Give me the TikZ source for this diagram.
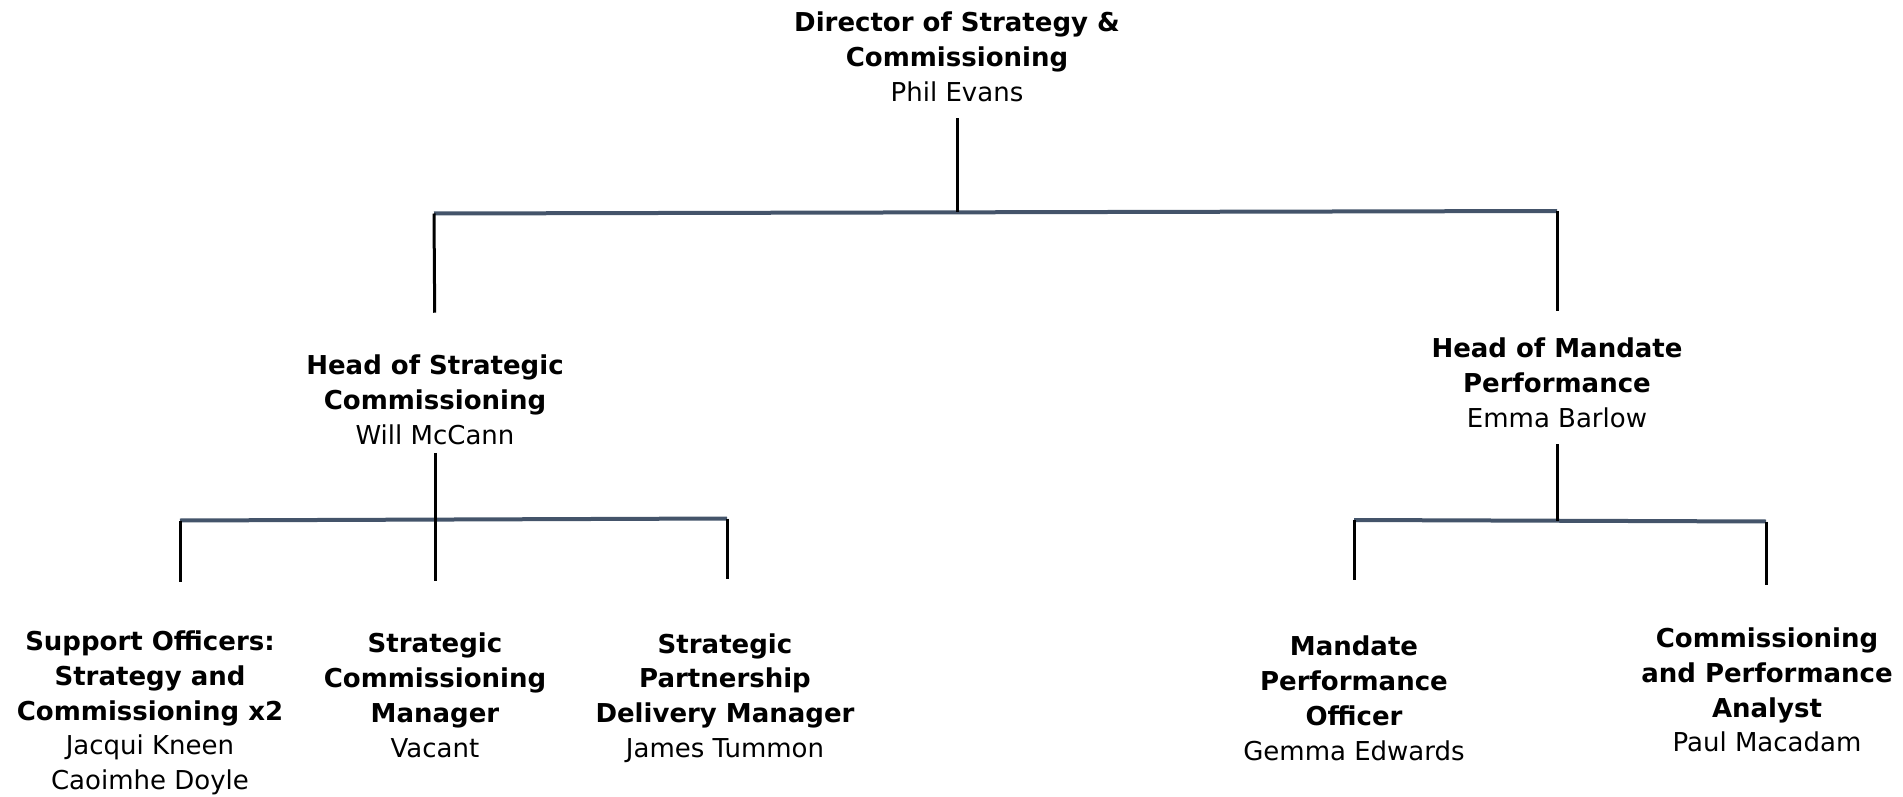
\documentclass[tikz,border=0pt]{standalone}
\usepackage{fontspec}
\setmainfont{DejaVu Sans}
\definecolor{barblue}{RGB}{68,84,106}
\tikzstyle{post} = [align=center, inner sep=0pt, font=\fontsize{13}{17.4}\selectfont]
\tikzstyle{stem} = [line width=1.5pt, black]
\tikzstyle{bar} = [line width=2pt, barblue]

\begin{document}
\begin{tikzpicture}[x=0.5pt, y=-0.5pt]
\useasboundingbox (0,0) rectangle (1903,797);

% Posts
\node[post] (dir) at (957,57) {\textbf{Director of Strategy \&}\\\textbf{Commissioning}\\Phil Evans};
\node[post] (hsc) at (435,400) {\textbf{Head of Strategic}\\\textbf{Commissioning}\\Will McCann};
\node[post] (hmp) at (1557,383) {\textbf{Head of Mandate}\\\textbf{Performance}\\Emma Barlow};
\node[post] (sup) at (150,713) {\textbf{Support Officers:}\\\textbf{Strategy and}\\\textbf{Commissioning x2}\\Jacqui Kneen\\Caoimhe Doyle};
\node[post] (scm) at (435,695.5) {\textbf{Strategic}\\\textbf{Commissioning}\\\textbf{Manager}\\Vacant};
\node[post] (spd) at (725,698) {\textbf{Strategic}\\\textbf{Partnership}\\\textbf{Delivery Manager}\\James Tummon};
\node[post] (mpo) at (1354,698.5) {\textbf{Mandate}\\\textbf{Performance}\\\textbf{Officer}\\Gemma Edwards};
\node[post] (cpa) at (1767,690) {\textbf{Commissioning}\\\textbf{and Performance}\\\textbf{Analyst}\\Paul Macadam};

% Bar ends
\coordinate (t0) at (957,212.5);
\coordinate (tl) at (434,213.5);
\coordinate (tr) at (1557,211);
\coordinate (ll) at (180,520.5);
\coordinate (lm) at (435,519.5);
\coordinate (lr) at (727,518.5);
\coordinate (rl) at (1354,520);
\coordinate (rm) at (1557,520.7);
\coordinate (rr) at (1766,521.5);
\coordinate (sl) at (180,582);
\coordinate (sr) at (727,579);
\coordinate (ml) at (1354,580);
\coordinate (mr) at (1766,585);

% Lines
\draw[bar] (tl) -- (tr);
\draw[bar] (ll) -- (lr);
\draw[bar] (rl) -- (rr);
\draw[stem, shorten <=8pt] (dir.south) -- (t0);
\draw[stem, shorten >=21pt] (tl) -- (hsc.north);
\draw[stem, shorten >=13.5pt] (tr) -- (hmp.north);
\draw[stem, shorten <=3.8pt] (hsc.south) -- (lm);
\draw[stem, shorten <=8pt] (hmp.south) -- (rm);
\draw[stem] (ll) -- (sl);
\draw[stem, shorten >=26pt] (lm) -- (scm.north);
\draw[stem] (lr) -- (sr);
\draw[stem] (rl) -- (ml);
\draw[stem] (rr) -- (mr);

\end{tikzpicture}
\end{document}
